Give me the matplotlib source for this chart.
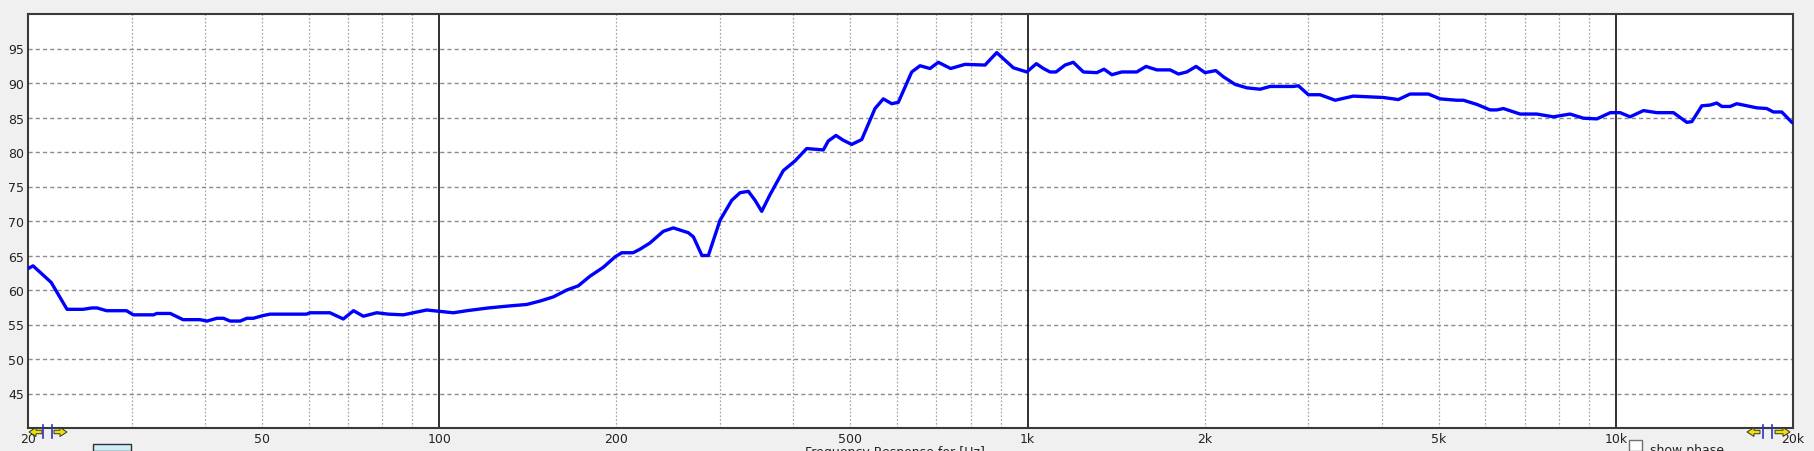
import matplotlib
matplotlib.use('Agg')
import matplotlib.pyplot as plt
from matplotlib.ticker import NullLocator
from matplotlib.patches import Rectangle, Polygon

# ---------------- data ----------------
freq_hz = [20, 20.4, 21.9, 23.3, 24.8, 25.7, 26.2, 27.2, 29.4, 30.2, 32.7, 33.1, 34.9,
           36.7, 39.2, 40.3, 41.9, 43.0, 44.1, 45.9, 47.1, 48.3, 50.2, 51.6, 59.5, 60.3,
           65.2, 68.7, 71.5, 74.3, 78.3, 82.0, 86.9, 90.4, 95.2, 100.3, 105.7, 111.4,
           121.2, 131.9, 140.8, 148.4, 156.3, 164.8, 172.3, 180.4, 190.1, 199.0, 204.3,
           213.6, 219.3, 228.0, 240.3, 250.0, 265.1, 270.4, 279.6, 286.7, 300.1, 314.2,
           324.6, 335.3, 344.2, 353.3, 364.9, 384.4, 402.4, 421.3, 449.6, 458.5, 472.5,
           486.2, 502.4, 522.5, 550.4, 568.6, 587.6, 603.0, 635.5, 656.5, 682.7, 705.2,
           740.0, 782.9, 846.6, 886.3, 946.1, 997, 1035, 1064, 1092, 1118, 1158, 1196,
           1244, 1311, 1349, 1391, 1446, 1533, 1590, 1658, 1747, 1805, 1865, 1934, 2003,
           2089, 2152, 2253, 2359, 2485, 2584, 2830, 2886, 3001, 3142, 3333, 3578, 4025,
           4268, 4468, 4801, 5026, 5365, 5507, 5803, 6111, 6273, 6439, 6874, 7337, 7829,
           8358, 8806, 9283, 9783, 10170, 10570, 11140, 11740, 12530, 13200, 13460,
           14000, 14460, 14840, 15140, 15640, 16050, 16690, 17360, 18050, 18520, 19140,
           19910, 20000]
level_db = [63.1, 63.5, 61.1, 57.2, 57.2, 57.4, 57.4, 57.0, 57.0, 56.4, 56.4, 56.6, 56.6,
            55.7, 55.7, 55.5, 55.9, 55.9, 55.5, 55.5, 55.9, 55.9, 56.3, 56.5, 56.5, 56.7,
            56.7, 55.8, 57.0, 56.2, 56.7, 56.5, 56.4, 56.7, 57.1, 56.9, 56.7, 57.0,
            57.4, 57.7, 57.9, 58.4, 59.0, 60.0, 60.6, 62.0, 63.3, 64.8, 65.4,
            65.4, 65.9, 66.8, 68.5, 69.0, 68.3, 67.7, 65.0, 65.0, 70.1, 73.0,
            74.1, 74.3, 73.0, 71.4, 73.8, 77.3, 78.7, 80.5, 80.3, 81.6, 82.4,
            81.7, 81.1, 81.8, 86.3, 87.7, 87.0, 87.2, 91.6, 92.5, 92.1, 93.0,
            92.1, 92.7, 92.6, 94.4, 92.2, 91.6, 92.8, 92.1, 91.6, 91.6, 92.6, 93.0,
            91.6, 91.5, 92.0, 91.2, 91.6, 91.6, 92.4, 91.9, 91.9, 91.3, 91.6, 92.4, 91.5,
            91.8, 90.9, 89.8, 89.3, 89.1, 89.5, 89.5, 89.6, 88.3, 88.3, 87.5, 88.1, 87.9,
            87.6, 88.4, 88.4, 87.7, 87.5, 87.5, 86.9, 86.1, 86.1, 86.3, 85.5, 85.5, 85.1,
            85.5, 84.9, 84.8, 85.7, 85.7, 85.1, 86.0, 85.7, 85.7, 84.3, 84.4,
            86.7, 86.8, 87.1, 86.6, 86.6, 87.0, 86.7, 86.4, 86.3, 85.8, 85.8,
            84.3, 84.2]

y_ticks = [45, 50, 55, 60, 65, 70, 75, 80, 85, 90, 95]
x_tick_values = [20, 50, 100, 200, 500, 1000, 2000, 5000, 10000, 20000]
x_tick_labels = ['20', '50', '100', '200', '500', '1k', '2k', '5k', '10k', '20k']
minor_grid_hz = [30, 40, 50, 60, 70, 80, 90, 200, 300, 400, 500, 600, 700, 800, 900,
                 2000, 3000, 4000, 5000, 6000, 7000, 8000, 9000]
major_grid_hz = [100, 1000, 10000]

# ---------------- figure ----------------
W, H = 1815, 452
fig = plt.figure(figsize=(W / 100, H / 100), dpi=100, facecolor='#f0f0f0')
ax = fig.add_axes([28 / W, 23 / H, 1765 / W, 414 / H])
ax.set_facecolor('white')
ax.set_xscale('log')
ax.set_xlim(20, 20000)
ax.set_ylim(40, 100)

for v in minor_grid_hz:
    ax.axvline(v, color='#a8a8a8', lw=0.9, ls=(0, (1.5, 1.5)), zorder=1)
for v in major_grid_hz:
    ax.axvline(v, color='#202020', lw=1.3, zorder=2)
for v in y_ticks:
    ax.axhline(v, color='#8c8c8c', lw=1.0, ls=(0, (3, 2.2)), zorder=1)

ax.plot(freq_hz, level_db, color='#0000ff', lw=2.4, zorder=3, solid_joinstyle='round')

ax.set_xticks(x_tick_values)
ax.set_xticklabels(x_tick_labels)
ax.xaxis.set_minor_locator(NullLocator())
ax.set_yticks(y_ticks)
ax.set_yticklabels([str(v) for v in y_ticks])
ax.tick_params(axis='both', length=0, labelsize=9, labelcolor='#222222')
ax.tick_params(axis='y', pad=3)
ax.tick_params(axis='x', pad=3)
for s in ax.spines.values():
    s.set_color('#3a3a3a')
    s.set_linewidth(1.5)


def fx(px):
    return px / W


def fy(py):
    return (H - py) / H


# navigation arrows (decoration)
def arrow(x0, x1, yc, direction):
    # polygon arrow in pixel coords
    h = 3.5
    hh = 7
    if direction == 'left':
        tip, base = x0, x0 + 7
        pts = [(tip, yc), (base, yc - hh / 2 - 1), (base, yc - h / 2), (x1, yc - h / 2),
               (x1, yc + h / 2), (base, yc + h / 2), (base, yc + hh / 2 + 1)]
    else:
        tip, base = x1, x1 - 7
        pts = [(tip, yc), (base, yc - hh / 2 - 1), (base, yc - h / 2), (x0, yc - h / 2),
               (x0, yc + h / 2), (base, yc + h / 2), (base, yc + hh / 2 + 1)]
    fig.add_artist(Polygon([(fx(a), fy(b)) for a, b in pts], closed=True,
                           transform=fig.transFigure, facecolor='#f0e000',
                           edgecolor='#303030', lw=0.7, zorder=10))


def vbar(px):
    fig.add_artist(plt.Line2D([fx(px), fx(px)], [fy(426), fy(439)],
                              transform=fig.transFigure, color='#3030c0', lw=1.2, zorder=10))


arrow(29, 42, 433, 'left')
vbar(43)
vbar(52)
arrow(54, 67, 433, 'right')
arrow(1747, 1760, 433, 'left')
vbar(1763)
vbar(1772)
arrow(1775, 1790, 433, 'right')

# bottom controls (partially visible)
fig.add_artist(Rectangle((fx(93), 0), 38 / W, 7 / H, transform=fig.transFigure,
                         facecolor='#cdeef8', edgecolor='#303030', lw=1.0))
fig.add_artist(Rectangle((fx(1629), 0), 13 / W, 11 / H, transform=fig.transFigure,
                         facecolor='white', edgecolor='#707070', lw=1.0))
fig.text(fx(1650), fy(444), 'show phase', fontsize=9, color='#222222', va='top', ha='left')
fig.text(fx(805), fy(446), 'Frequency Response for [Hz]', fontsize=9, color='#222222',
         va='top', ha='left')

fig.savefig('out.png', dpi=100, facecolor=fig.get_facecolor())
